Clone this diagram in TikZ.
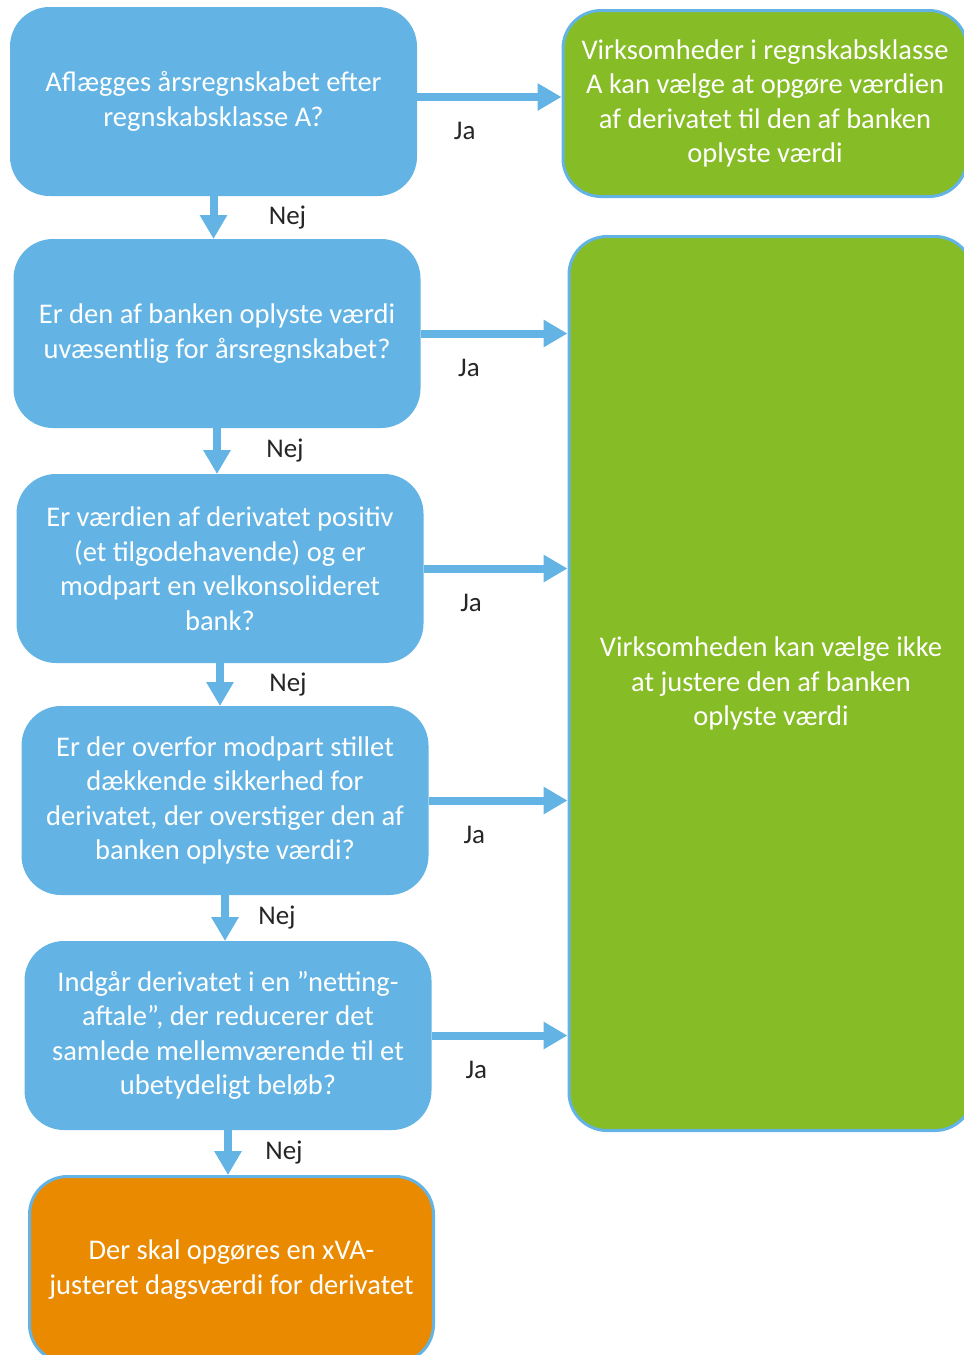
\documentclass[tikz,border=0pt]{standalone}
\usepackage{fontspec}
\setmainfont{Carlito}
\usetikzlibrary{arrows.meta, positioning}
\definecolor{qblue}{HTML}{63B4E4}
\definecolor{okgreen}{HTML}{86BC25}
\definecolor{xvaorange}{HTML}{EA8A00}
\tikzset{
  question/.style = {rectangle, rounded corners=38pt, draw=qblue, fill=qblue, line width=3pt, align=center, text=white, font=\fontsize{28.5}{34.5}\selectfont, minimum width=404pt, minimum height=186pt, inner sep=0pt},
  answer/.style = {question, fill=okgreen},
  outcome/.style = {question, fill=xvaorange},
  line/.style = {-{Triangle[length=24pt,width=26pt]}, draw=qblue, line width=8pt},
  lbl/.style = {text=black!85, font=\fontsize{27}{30}\selectfont}
}

\begin{document}
\begin{tikzpicture}[x=1pt, y=1pt, node distance=43pt]
\clip (0,0) rectangle (964,-1355);

% Question chain
\node[question] (q1) at (213.5,-101.5) {Aflægges årsregnskabet efter\\ regnskabsklasse A?};

\node[question, below=of q1, xshift=3.5pt] (q2) {Er den af banken oplyste værdi\\ uvæsentlig for årsregnskabet?};

\node[question, below=46pt of q2, xshift=3pt] (q3) {Er værdien af derivatet positiv\\ (et tilgodehavende) og er\\ modpart en velkonsolideret\\ bank?};

\node[question, below=of q3, xshift=5pt] (q4) {Er der overfor modpart stillet\\ dækkende sikkerhed for\\ derivatet, der overstiger den af\\ banken oplyste værdi?};

\node[question, below=46pt of q4, xshift=3pt] (q5) {Indgår derivatet i en ”netting-\\ aftale”, der reducerer det\\ samlede mellemværende til et\\ ubetydeligt beløb?};

\node[outcome, below=45pt of q5, xshift=3.5pt] (xva) {Der skal opgøres en xVA-\\ justeret dagsværdi for derivatet};

% Results
\node[answer] (res1) at (765,-103.5) {Virksomheder i regnskabsklasse\\ A kan vælge at opgøre værdien\\ af derivatet til den af banken\\ oplyste værdi};

\node[answer, minimum height=894pt] (res2) at (771,-683.5) {Virksomheden kan vælge ikke\\ at justere den af banken\\ oplyste værdi};

% Connections
\draw[line] (q1.east |- 0,-97) -- (res1.west |- 0,-97) node[lbl, pos=0.33, below=18pt] {Ja};
\foreach \q in {q2,q3,q4,q5}
  \draw[line] (\q.east) -- (\q.east -| res2.west) node[lbl, pos=0.33, below=18pt] {Ja};

\draw[line] (q1.south) -- (q1.south |- q2.north) node[lbl, midway, right=48pt] {Nej};
\draw[line] (q2.south) -- (q2.south |- q3.north) node[lbl, midway, right=42pt] {Nej};
\draw[line] (q3.south) -- (q3.south |- q4.north) node[lbl, midway, right=42pt] {Nej};
\draw[line] (q4.south) -- (q4.south |- q5.north) node[lbl, midway, right=26pt] {Nej};
\draw[line] (q5.south) -- (q5.south |- xva.north) node[lbl, midway, right=30pt] {Nej};

\end{tikzpicture}
\end{document}
